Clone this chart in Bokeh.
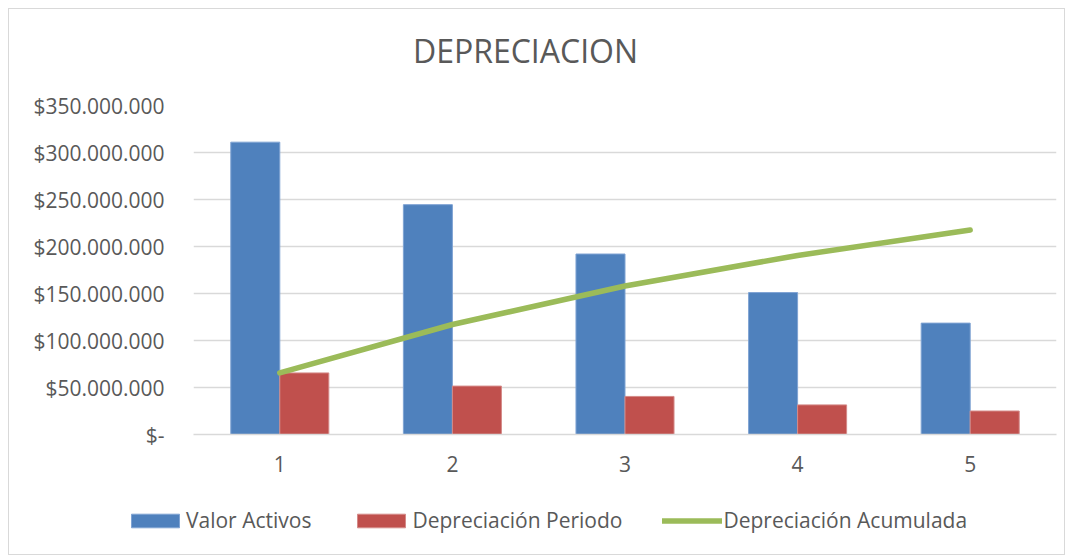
from bokeh.plotting import figure
from bokeh.layouts import column
from bokeh.models import (Range1d, FixedTicker, Legend, LegendItem, Label)
from bokeh.embed import file_html
from bokeh.resources import INLINE

# ---- data ----
years = [1, 2, 3, 4, 5]
valor_activos = [311e6, 244.5e6, 192e6, 151e6, 118.5e6]
dep_periodo = [65.5e6, 51.5e6, 40.5e6, 31.5e6, 25e6]
dep_acumulada = [65.5e6, 117e6, 158e6, 190.5e6, 217.5e6]
y_ticks = [0, 50e6, 100e6, 150e6, 200e6, 250e6, 300e6, 350e6]
title_text = "DEPRECIACION"
series_names = ["Valor Activos", "Depreciación Periodo", "Depreciación Acumulada"]

def fmt(v):
    return "$-" if v == 0 else "$" + f"{int(v):,}".replace(",", ".")

tick_labels = {v: fmt(v) for v in y_ticks}

FONT = "Open Sans"
TXT = "#595959"
GRID = "#D9D9D9"
BLUE, RED, GREEN = "#4F81BD", "#C0504D", "#9BBB59"
BORDER = "1px solid #D9D9D9"
W = 1057


def strip(height, sides):
    f = figure(width=W, height=height, output_backend="svg", toolbar_location=None,
               x_axis_type=None, y_axis_type=None, min_border=0,
               x_range=Range1d(-2, -1), y_range=Range1d(-2, -1))
    f.frame_align = False
    st = {"border-" + s: BORDER for s in sides}
    st["box-sizing"] = "border-box"
    f.styles = st
    f.outline_line_color = None
    f.grid.visible = False
    f.background_fill_color = "white"
    f.border_fill_color = "white"
    return f


# ---- title strip ----
tf = strip(80, ["left", "top", "right"])
tf.add_layout(Label(x=516, y=39, x_units="screen", y_units="screen",
                    text=title_text, text_align="center", text_baseline="middle",
                    text_font=FONT, text_font_size="32px", text_color=TXT))

# ---- main chart ----
p = figure(width=W, height=400, output_backend="svg", toolbar_location=None,
           x_range=Range1d(0.5, 5.5), y_range=Range1d(0, 350e6),
           min_border_left=184, min_border_right=10, min_border_top=17,
           min_border_bottom=54)
p.frame_align = False
p.styles = {"border-left": BORDER, "border-right": BORDER, "box-sizing": "border-box"}
p.outline_line_color = None
p.background_fill_color = "white"
p.border_fill_color = "white"

bw = 0.284
bar_style_1 = dict(fill_color=BLUE, line_color="#7FA3D3", line_width=1)
bar_style_2 = dict(fill_color=RED, line_color="#D48A88", line_width=1)
line_style = dict(line_color=GREEN, line_width=5.5, line_cap="round", line_join="round")

p.vbar(x=[y - bw / 2 for y in years], top=valor_activos, width=bw, **bar_style_1)
p.vbar(x=[y + bw / 2 for y in years], top=dep_periodo, width=bw, **bar_style_2)
p.line(x=years, y=dep_acumulada, **line_style)

p.xgrid.visible = False
p.ygrid.ticker = FixedTicker(ticks=y_ticks)
p.ygrid.grid_line_color = GRID
p.ygrid.grid_line_width = 1.3

p.yaxis.ticker = FixedTicker(ticks=y_ticks)
p.yaxis.major_label_overrides = tick_labels
p.yaxis.axis_line_color = None
p.yaxis.major_tick_line_color = None
p.yaxis.minor_tick_line_color = None
p.yaxis.major_tick_out = 0
p.yaxis.major_tick_in = 0
p.yaxis.minor_tick_out = 0
p.yaxis.major_label_standoff = 29
p.yaxis.major_label_text_font = FONT
p.yaxis.major_label_text_font_size = "21px"
p.yaxis.major_label_text_color = TXT

p.xaxis.ticker = FixedTicker(ticks=years)
p.xaxis.axis_line_color = GRID
p.xaxis.axis_line_width = 1.3
p.xaxis.major_tick_line_color = None
p.xaxis.minor_tick_line_color = None
p.xaxis.major_tick_out = 0
p.xaxis.major_tick_in = 0
p.xaxis.minor_tick_out = 0
p.xaxis.major_label_standoff = 21
p.xaxis.major_label_text_font = FONT
p.xaxis.major_label_text_font_size = "21px"
p.xaxis.major_label_text_color = TXT

# ---- legend strip (proxy renderers kept out of view by the strip's ranges) ----
lg = strip(67, ["left", "right", "bottom"])
r1 = lg.vbar(x=years, top=valor_activos, width=bw, **bar_style_1)
r2 = lg.vbar(x=years, top=dep_periodo, width=bw, **bar_style_2)
r3 = lg.line(x=years, y=dep_acumulada, **line_style)

legend = Legend(items=[LegendItem(label=series_names[0], renderers=[r1]),
                       LegendItem(label=series_names[1], renderers=[r2]),
                       LegendItem(label=series_names[2], renderers=[r3])],
                orientation="horizontal", location=(116, 21),
                glyph_width=60, glyph_height=17, label_standoff=1, spacing=40,
                padding=0, margin=0, border_line_color=None,
                background_fill_alpha=0,
                label_text_font=FONT, label_text_font_size="21px",
                label_text_color=TXT)
lg.add_layout(legend, "center")

layout = column(tf, p, lg, spacing=0)
layout.styles = {"margin": "8px 0 0 8px"}

open("out.html", "w").write(file_html(layout, INLINE))
